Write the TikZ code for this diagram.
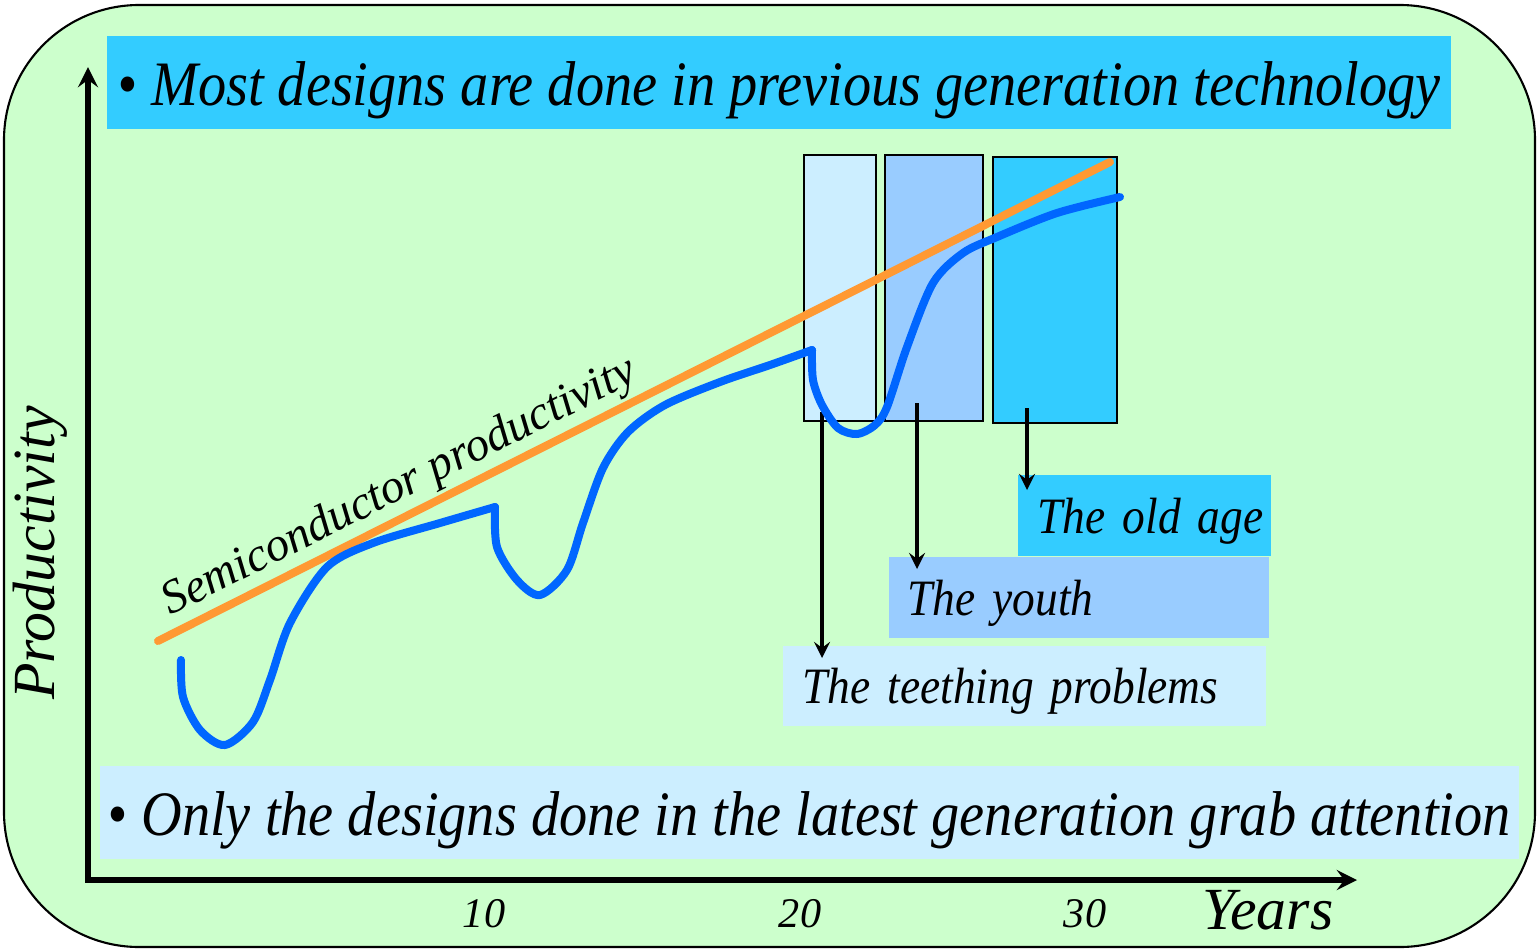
\documentclass[tikz,border=0pt]{standalone}
\usepackage{fontspec}
\setmainfont{Liberation Serif}
\newfontfamily\narrowfont{Liberation Serif}[FakeStretch=0.89]
\usetikzlibrary{positioning}
\definecolor{bggreen}{HTML}{CCFFCC}
\definecolor{cyanb}{HTML}{33CCFF}
\definecolor{paleb}{HTML}{CCEEFF}
\definecolor{midb}{HTML}{99CCFF}
\definecolor{curveb}{HTML}{0066FF}
\definecolor{orng}{HTML}{FF9933}
\begin{document}
\begin{tikzpicture}[x=0.01cm, y=-0.01cm, font=\itshape, >=stealth,
	banner/.style={inner sep=0, anchor=north west, text height=0.55cm, text depth=0.08cm, font=\narrowfont\itshape\fontsize{18}{20}\selectfont},
	lbl/.style={inner ysep=0, anchor=north west, align=left, text height=0.45cm, text depth=0.09cm, font=\narrowfont\itshape\fontsize{14.5}{17}\selectfont},
	tick/.style={font=\itshape\fontsize{12}{14}\selectfont},
	curve/.style={curveb, line width=0.08cm, line cap=round, line join=round}]
	\useasboundingbox (0,0) rectangle (1539,951);
	\path
	%	axes and lines
	(88,880) coordinate (O)
	(88,67) coordinate (Y)
	(1357,880) coordinate (X)
	(158,641) coordinate (L1)
	(1110,162) coordinate (L2)
	%	arrow ends
	(822,412) coordinate (a1) (822,658) coordinate (e1)
	(917,403) coordinate (a2) (917,569) coordinate (e2)
	(1027,408) coordinate (a3) (1027,490) coordinate (e3)
	;
	\draw[fill=bggreen, rounded corners=1.35cm, line width=0.6pt] (4,5) rectangle (1535,947);
	\node (top) [banner, fill=cyanb, minimum width=13.44cm, minimum height=0.93cm] at (106,35) {\textbullet\ Most designs are done in previous generation technology};
	\node (bot) [banner, fill=paleb, minimum width=14.18cm, minimum height=0.93cm] at (99,765) {\textbullet\ Only the designs done in the latest generation grab attention};
	\draw[<->, line width=1.5pt] (Y)--(O)--(X);
	% phases
	\draw[fill=paleb, line width=0.6pt] (804,155) rectangle (876,421);
	\draw[fill=midb, line width=0.6pt] (885,155) rectangle (983,421);
	\draw[fill=cyanb, line width=0.6pt] (993,157) rectangle (1117,423);
	\node (old) [lbl, fill=cyanb, inner xsep=0.2cm, text width=2.13cm, minimum height=0.81cm] at (1017,474) {\mbox{The old age}};
	\node (yth) [lbl, fill=midb, inner xsep=0.19cm, text width=3.42cm, minimum height=0.81cm] at (888,556) {The youth};
	\node (tth) [lbl, fill=paleb, inner xsep=0.2cm, text width=4.43cm, minimum height=0.8cm] at (782,645) {The teething problems};
	\foreach \s/\e in {a1/e1,a2/e2,a3/e3}\draw[->, line width=1pt] (\s)--(\e);
	% productivity
	\draw[orng, line width=0.08cm, line cap=round] (L1)--(L2);
	\node (semi) [rotate=26.7, font=\itshape\fontsize{13.5}{16}\selectfont] at (400,488) {Semiconductor productivity};
	\draw[curve] plot[smooth] coordinates {(181,660) (183,697) (200,730) (225,745) (253,722) (270,680) (290,623) (327,567) (373,543) (440,523) (495,507)};
	\draw[curve] plot[smooth] coordinates {(495,507) (497,547) (517,580) (540,595) (567,570) (583,523) (603,468) (628,432) (665,405) (720,382) (770,365) (812,350)};
	\draw[curve] plot[smooth] coordinates {(812,350) (813,380) (822,405) (838,428) (857,434) (875,425) (887,407) (907,347) (933,283) (963,253) (997,237) (1057,213) (1120,197)};
	% axis labels
	\node (prod) [rotate=90, font=\itshape\fontsize{17}{19}\selectfont] at (40,553) {Productivity};
	\foreach \x/\t in {484/10,800/20,1085/30}\node[tick] at (\x,914) {\t};
	\node (yrs) [font=\itshape\fontsize{17}{19}\selectfont] at (1268,910) {Years};
\end{tikzpicture}
\end{document}
